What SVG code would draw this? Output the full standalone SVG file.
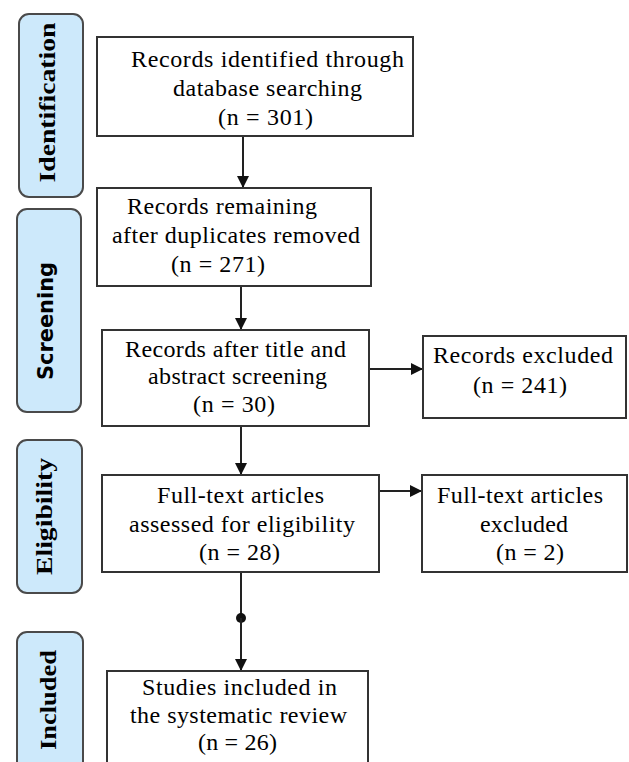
<svg xmlns="http://www.w3.org/2000/svg" width="629" height="762" viewBox="0 0 629 762">
<style>
.box{fill:#fff;stroke:#333;stroke-width:2}
.side{fill:#cde9fb;stroke:#4a4a4a;stroke-width:2}
.t{font-family:"Liberation Serif","Times New Roman",serif;font-size:24px;fill:#000}
.lab{font-family:"Liberation Serif","Times New Roman",serif;font-size:24px;font-weight:bold;fill:#000}
.labs{font-family:"DejaVu Sans","Liberation Sans",sans-serif;font-size:21px;font-weight:bold;fill:#000}
.c{stroke:#222;stroke-width:2;fill:none}
</style>
<defs>
<marker id="ah" viewBox="0 0 10 10" refX="10" refY="5" markerWidth="12" markerHeight="12" markerUnits="userSpaceOnUse" orient="auto">
<path d="M0,0 L10,5 L0,10 z" fill="#111"/>
</marker>
</defs>
<rect width="629" height="762" fill="#fff"/>

<g id="stage-identification">
<rect class="side" x="19" y="14" width="64" height="183" rx="10"/>
<text class="lab" transform="translate(55,102.5) rotate(-90)" text-anchor="middle" textLength="160" lengthAdjust="spacingAndGlyphs">Identification</text>
</g>
<g id="stage-screening">
<rect class="side" x="17" y="209" width="64" height="203" rx="10"/>
<text class="labs" transform="translate(53,321) rotate(-90)" text-anchor="middle" textLength="118" lengthAdjust="spacingAndGlyphs">Screening</text>
</g>
<g id="stage-eligibility">
<rect class="side" x="17" y="440" width="65" height="153" rx="10"/>
<text class="lab" transform="translate(52,516.5) rotate(-90)" text-anchor="middle" textLength="117" lengthAdjust="spacingAndGlyphs">Eligibility</text>
</g>
<g id="stage-included">
<rect class="side" x="17" y="632" width="66" height="150" rx="10"/>
<text class="lab" transform="translate(56,700) rotate(-90)" text-anchor="middle" textLength="100" lengthAdjust="spacingAndGlyphs">Included</text>
</g>

<g id="connectors">
<line class="c" x1="243" y1="136" x2="243" y2="188" marker-end="url(#ah)"/>
<line class="c" x1="241" y1="286" x2="241" y2="330" marker-end="url(#ah)"/>
<line class="c" x1="369" y1="369" x2="423" y2="369" marker-end="url(#ah)"/>
<line class="c" x1="241" y1="426" x2="241" y2="475" marker-end="url(#ah)"/>
<line class="c" x1="379" y1="491" x2="422" y2="491" marker-end="url(#ah)"/>
<line class="c" x1="241" y1="572" x2="241" y2="618"/>
<circle cx="241" cy="618" r="5" fill="#111"/>
<line class="c" x1="241" y1="618" x2="241" y2="671" marker-end="url(#ah)"/>
</g>

<g id="records-identified">
<rect class="box" x="97" y="37" width="316" height="99"/>
<text class="t" x="131" y="67" textLength="273" lengthAdjust="spacing">Records identified through</text>
<text class="t" x="173" y="96" textLength="189" lengthAdjust="spacing">database searching</text>
<text class="t" x="218" y="125" textLength="95" lengthAdjust="spacing">(n = 301)</text>
</g>
<g id="records-remaining">
<rect class="box" x="97" y="188" width="274" height="98"/>
<text class="t" x="127" y="214" textLength="190" lengthAdjust="spacing">Records remaining</text>
<text class="t" x="112" y="243" textLength="248" lengthAdjust="spacing">after duplicates removed</text>
<text class="t" x="171" y="272" textLength="94" lengthAdjust="spacing">(n = 271)</text>
</g>
<g id="records-screened">
<rect class="box" x="102" y="330" width="267" height="96"/>
<text class="t" x="125" y="357" textLength="221" lengthAdjust="spacing">Records after title and</text>
<text class="t" x="148" y="384" textLength="179" lengthAdjust="spacing">abstract screening</text>
<text class="t" x="193" y="412" textLength="82" lengthAdjust="spacing">(n = 30)</text>
</g>
<g id="records-excluded">
<rect class="box" x="423" y="336" width="203" height="82"/>
<text class="t" x="433" y="363" textLength="180" lengthAdjust="spacing">Records excluded</text>
<text class="t" x="473" y="393" textLength="94" lengthAdjust="spacing">(n = 241)</text>
</g>
<g id="fulltext-assessed">
<rect class="box" x="102" y="475" width="277" height="97"/>
<text class="t" x="157" y="503" textLength="167" lengthAdjust="spacing">Full-text articles</text>
<text class="t" x="129" y="532" textLength="226" lengthAdjust="spacing">assessed for eligibility</text>
<text class="t" x="199" y="560" textLength="81" lengthAdjust="spacing">(n = 28)</text>
</g>
<g id="fulltext-excluded">
<rect class="box" x="422" y="475" width="205" height="97"/>
<text class="t" x="437" y="503" textLength="166" lengthAdjust="spacing">Full-text articles</text>
<text class="t" x="480" y="532" textLength="88" lengthAdjust="spacing">excluded</text>
<text class="t" x="496" y="560" textLength="68" lengthAdjust="spacing">(n = 2)</text>
</g>
<g id="studies-included">
<rect class="box" x="107" y="671" width="261" height="110"/>
<text class="t" x="142" y="695" textLength="195" lengthAdjust="spacing">Studies included in</text>
<text class="t" x="130" y="723" textLength="217" lengthAdjust="spacing">the systematic review</text>
<text class="t" x="198" y="750" textLength="79" lengthAdjust="spacing">(n = 26)</text>
</g>
</svg>
